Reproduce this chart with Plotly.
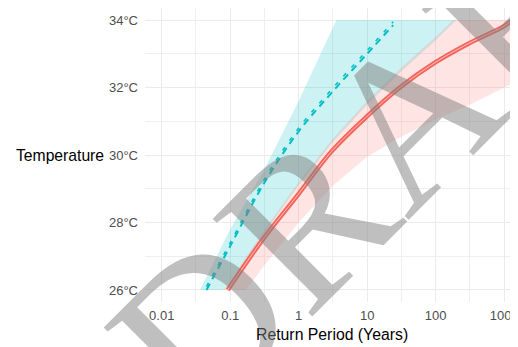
import plotly.graph_objects as go

# ---------------- data (return period in years, temperature in °C) ----------------
# observed-climate fit (red, solid) and its confidence band
red_period = [0.092, 0.3, 1, 3, 10, 30, 100, 300, 1000, 1320]
red_temp = [26.0, 27.5, 28.85, 30.1, 31.15, 32.0, 32.75, 33.3, 33.82, 34.0]

red_band_up_period = [0.081, 0.32, 1, 3.2, 10, 32, 100, 182, 1350]
red_band_up_temp = [26.0, 27.8, 29.2, 30.5, 31.6, 32.6, 33.5, 34.0, 34.0]
red_band_lo_period = [0.17, 0.32, 1, 3.2, 10, 32, 100, 320, 1000, 1350]
red_band_lo_temp = [26.0, 26.75, 28.0, 29.1, 29.95, 30.55, 31.05, 31.5, 32.0, 32.13]

# future-climate fit (cyan, dashed) and its confidence band
cyan_period = [0.045, 0.1, 0.32, 1, 3.2, 10, 24]
cyan_temp = [26.0, 27.3, 29.2, 30.7, 31.9, 33.0, 33.85]
cyan_temp_b = [26.1, 27.4, 29.3, 30.8, 32.0, 33.1, 33.95]

cyan_band_up_period = [0.036, 0.1, 0.32, 1, 3.55]
cyan_band_up_temp = [26.0, 27.8, 29.6, 31.6, 34.0]
cyan_band_lo_period = [0.083, 0.32, 1, 3.2, 10, 32, 100, 200]
cyan_band_lo_temp = [26.0, 27.7, 29.1, 30.4, 31.5, 32.5, 33.4, 34.0]

x_tick_vals = [0.01, 0.1, 1, 10, 100, 1000]
x_tick_text = ["0.01", "0.1", "1", "10", "100", "1000"]
x_minor_vals = [0.0316, 0.316, 3.16, 31.6, 316]
y_tick_vals = [26, 28, 30, 32, 34]
y_tick_text = ["26°C", "28°C", "30°C", "32°C", "34°C"]
y_minor_vals = [27, 29, 31, 33]

RED = "#F4645A"
CYAN = "#00BFC4"

fig = go.Figure()

# bands
fig.add_trace(go.Scatter(
    x=cyan_band_up_period + cyan_band_lo_period[::-1],
    y=cyan_band_up_temp + cyan_band_lo_temp[::-1],
    fill="toself", fillcolor="rgba(0,191,196,0.2)", mode="none",
    hoverinfo="skip", showlegend=False))
fig.add_trace(go.Scatter(
    x=red_band_up_period + red_band_lo_period[::-1],
    y=red_band_up_temp + red_band_lo_temp[::-1],
    fill="toself", fillcolor="rgba(248,118,109,0.2)", mode="none",
    hoverinfo="skip", showlegend=False))

# red solid (doubled look)
fig.add_trace(go.Scatter(x=red_period, y=red_temp, mode="lines",
                         line=dict(color=RED, width=4.5, shape="spline"),
                         showlegend=False))
fig.add_trace(go.Scatter(x=red_period, y=red_temp, mode="lines",
                         line=dict(color="rgba(255,255,255,0.6)", width=1, shape="spline"),
                         showlegend=False, hoverinfo="skip"))

# cyan dashed (two slightly offset dashed lines)
fig.add_trace(go.Scatter(x=cyan_period, y=cyan_temp, mode="lines",
                         line=dict(color=CYAN, width=2, dash="7px,5px", shape="spline"),
                         showlegend=False))
fig.add_trace(go.Scatter(x=cyan_period, y=cyan_temp_b, mode="lines",
                         line=dict(color=CYAN, width=1.5, dash="4px,8px", shape="spline"),
                         showlegend=False))

# page body has an 8px default margin -> figure is sized/offset to compensate
fig.update_layout(
    width=510, height=339,
    margin=dict(l=137, r=0, t=0, b=45),
    paper_bgcolor="white", plot_bgcolor="white",
    font=dict(family="Liberation Sans, Arial, sans-serif", color="#4D4D4D", size=13),
    xaxis=dict(type="log", range=[-2.244, 3.115],
               tickvals=x_tick_vals, ticktext=x_tick_text,
               showgrid=True, gridcolor="#EBEBEB", gridwidth=1,
               minor=dict(tickvals=x_minor_vals, showgrid=True, gridcolor="#EFEFEF", gridwidth=0.8),
               zeroline=False, showline=False, ticks="", ticklabelstandoff=4,
               ticklabeloverflow="allow",
               tickfont=dict(size=13, color="#4D4D4D")),
    yaxis=dict(range=[25.644, 34.356],
               tickvals=y_tick_vals, ticktext=y_tick_text,
               showgrid=True, gridcolor="#EBEBEB", gridwidth=1,
               minor=dict(tickvals=y_minor_vals, showgrid=True, gridcolor="#EFEFEF", gridwidth=0.8),
               zeroline=False, showline=False, ticks="", ticklabelstandoff=6,
               tickfont=dict(size=13, color="#4D4D4D")),
    annotations=[
        dict(text="Return Period (Years)", xref="paper", yref="paper",
             x=0.509, y=-0.109, xanchor="center", yanchor="middle", showarrow=False,
             font=dict(size=15.8, color="black")),
        dict(text="Temperature", xref="paper", yref="paper",
             x=-0.107, y=0.5, xanchor="right", yanchor="middle", showarrow=False,
             font=dict(size=15.7, color="black")),
        dict(text="DRAFT", xref="paper", yref="paper",
             x=0.678, y=0.575, xanchor="center", yanchor="middle", showarrow=False,
             textangle=-45,
             font=dict(family="Liberation Serif, Times New Roman, serif", size=213,
                       color="rgba(128,128,128,0.5)")),
    ],
)

fig.write_html("out.html")
